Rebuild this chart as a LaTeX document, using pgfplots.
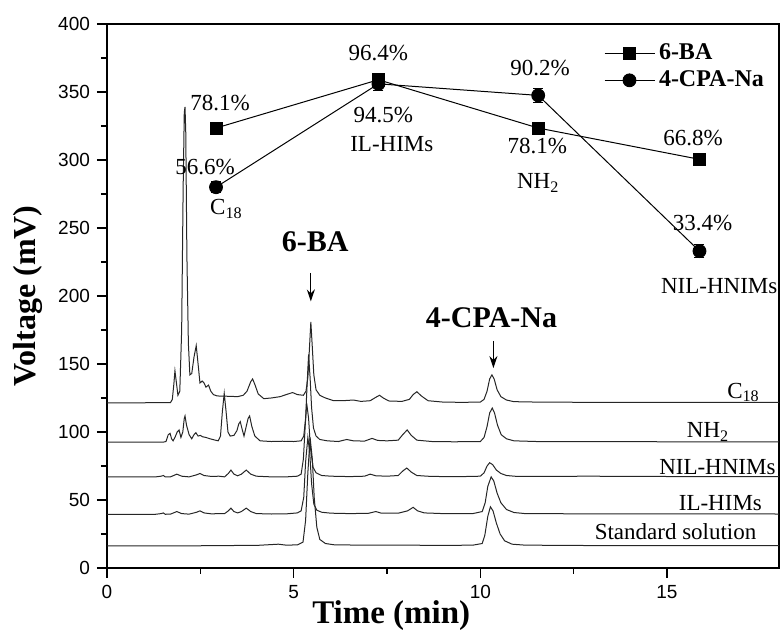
\documentclass[border=0pt]{standalone}
\usepackage{fontspec}
\setmainfont{Liberation Serif}
\newfontfamily\ticksf{Liberation Sans}
\usepackage{pgfplots}
\pgfplotsset{compat=1.18}
\usetikzlibrary{arrows.meta}

\begin{document}
\begin{tikzpicture}
\begin{axis}[
  scale only axis, width=336pt, height=272pt,
  xmin=0, xmax=18, ymin=0, ymax=400,
  xtick={0,5,10,15}, ytick={0,50,...,400},
  minor x tick num=1, minor y tick num=1,
  tick pos=left, tick align=outside,
  major tick length=5pt, minor tick length=3pt,
  axis line style={line width=0.9pt},
  every tick/.style={line width=0.8pt, black},
  ticklabel style={font=\ticksf\fontsize{9.5}{10}\selectfont},
  /pgf/number format/assume math mode=true,
  xlabel={\textbf{Time (min)}}, ylabel={\textbf{Voltage (mV)}},
  xlabel style={font=\fontsize{16.5}{19}\selectfont, inner sep=0pt, at={(rel axis cs:0.423,-0.088)}, anchor=center},
  ylabel style={font=\fontsize{16}{18}\selectfont, inner sep=0pt, at={(rel axis cs:-0.1176,0.5)}, anchor=center},
  clip=false,
  legend style={draw=none, fill=none, at={(rel axis cs:0.987,0.975)}, anchor=north east,
    font=\bfseries\fontsize{12}{14.5}\selectfont, inner sep=1pt},
  legend cell align=left,
  legend image code/.code={\draw[mark repeat=2,mark phase=2,#1] plot coordinates {(0pt,0pt) (12.5pt,0pt) (25pt,0pt)};},
  trace/.style={black!85, line width=0.5pt, forget plot},
]
% chromatograms
\addplot[trace] coordinates {(0,121.5) (1.0,121.5) (1.7,121.6) (1.75,124) (1.79,135) (1.82,145) (1.86,136) (1.9,127) (1.95,130) (2.0,175) (2.04,280) (2.07,335) (2.09,339) (2.11,320) (2.14,230) (2.18,165) (2.22,142) (2.27,143) (2.33,155) (2.39,163.5) (2.44,150) (2.49,136) (2.55,137.5) (2.6,136) (2.65,133) (2.72,134.5) (2.78,130) (2.85,127.5) (2.95,126.5) (3.2,126.3) (3.5,126) (3.65,127) (3.75,130) (3.85,137) (3.9,139) (3.96,135) (4.05,128) (4.2,124.5) (4.4,125) (4.64,126) (4.8,127.5) (4.97,129) (5.1,127.5) (5.26,127) (5.33,130) (5.38,140) (5.42,160) (5.46,181) (5.5,162) (5.54,142) (5.6,131) (5.7,127) (5.85,125) (6.07,123) (6.3,123) (6.6,123.5) (6.8,122.5) (7.05,123) (7.2,125.5) (7.3,127) (7.4,125) (7.55,122.8) (7.9,122.5) (8.1,124) (8.2,127.5) (8.3,129.6) (8.42,126.5) (8.6,123) (9.0,122) (9.5,121.8) (10.0,122) (10.1,124) (10.18,130) (10.25,139) (10.31,142) (10.37,139) (10.45,131) (10.55,126) (10.7,123.5) (10.9,122.3) (11.5,122) (13,121.8) (15,121.8) (18,121.7)};
\addplot[trace] coordinates {(0,92.5) (1.5,92.5) (1.58,93) (1.64,98) (1.69,99) (1.73,95) (1.77,93.5) (1.82,96) (1.88,100) (1.93,101.5) (1.98,96) (2.03,100) (2.07,110) (2.09,111.8) (2.13,105) (2.2,98) (2.27,95) (2.33,98) (2.38,99.5) (2.44,97) (2.5,97.5) (2.56,96.5) (2.65,96) (2.76,95) (2.9,94) (2.98,93.5) (3.04,97) (3.09,115) (3.14,128.4) (3.19,115) (3.24,100) (3.3,97) (3.4,97.5) (3.48,101) (3.53,106) (3.57,107.6) (3.62,102) (3.67,97) (3.72,103) (3.78,110) (3.82,111.8) (3.88,104) (3.96,97) (4.1,93.5) (4.4,93) (4.7,93.2) (5.0,93) (5.2,93.5) (5.27,97) (5.32,110) (5.36,135) (5.40,157) (5.44,140) (5.48,118) (5.53,103) (5.6,97) (5.7,94.5) (5.9,93.5) (6.2,93) (6.42,94.5) (6.6,93.5) (6.9,93.3) (7.1,95.3) (7.25,93.8) (7.5,93.5) (7.8,94) (7.92,98) (8.04,101.5) (8.15,97.5) (8.3,94) (8.7,93) (9.3,92.8) (10.0,93) (10.1,96) (10.18,104) (10.25,114) (10.32,117.6) (10.38,114) (10.46,105) (10.56,98) (10.7,95) (10.9,93.5) (11.5,93) (13,93) (15,92.8) (18,92.8)};
\addplot[trace] coordinates {(0,67) (1.3,67) (1.45,67.5) (1.51,68) (1.56,67) (1.7,67) (1.87,69) (2.0,67.5) (2.2,67) (2.4,68.5) (2.49,69.5) (2.6,68) (2.8,67.3) (3.0,67.5) (3.15,67) (3.25,69.5) (3.32,72) (3.4,69) (3.5,67.8) (3.6,69) (3.73,72) (3.85,69) (4.0,67.5) (4.4,67) (4.8,67) (5.1,67.5) (5.2,69) (5.26,80) (5.31,105) (5.35,121) (5.4,110) (5.45,88) (5.52,74) (5.6,70) (5.75,68) (6.0,67.5) (6.5,67.2) (6.9,67.5) (7.05,69) (7.2,67.8) (7.5,67.5) (7.8,68) (7.93,71.5) (8.03,73.5) (8.15,70.5) (8.3,68) (8.7,67.3) (9.5,67.2) (10.0,67.5) (10.1,70) (10.18,75) (10.25,77.4) (10.33,76) (10.43,72) (10.55,69.5) (10.7,68) (11,67.3) (13,67.5) (14,67.3) (18,67.2)};
\addplot[trace] coordinates {(0,39.5) (1.3,39.5) (1.45,40) (1.51,40.5) (1.56,39.5) (1.7,39.6) (1.87,41.5) (2.0,40) (2.2,39.6) (2.4,41) (2.49,42) (2.6,40.5) (2.8,39.8) (3.0,40) (3.15,40) (3.25,42) (3.32,44) (3.4,41.5) (3.5,40.5) (3.6,41.5) (3.73,44) (3.85,41.5) (4.0,40) (4.4,39.7) (4.8,39.8) (5.1,40.5) (5.2,42) (5.27,52) (5.32,78) (5.38,96) (5.43,85) (5.48,62) (5.54,47) (5.62,42.5) (5.75,41) (6.0,40.3) (6.5,40) (7.0,40.2) (7.2,41.5) (7.35,40.3) (7.8,40.3) (8.05,42) (8.2,44.6) (8.32,42) (8.5,40.5) (9.0,40) (9.8,40) (10.05,41.5) (10.13,48) (10.2,60) (10.29,67) (10.36,64) (10.45,55) (10.55,48) (10.7,43) (10.9,40.8) (11.2,40) (13,39.8) (18,39.7)};
\addplot[trace] coordinates {(0,16.3) (2,16.2) (3,16.5) (4,16.6) (4.59,17.5) (4.8,16.8) (5.1,17) (5.25,19) (5.32,35) (5.38,70) (5.44,96) (5.5,80) (5.55,52) (5.62,30) (5.7,21) (5.85,18) (6.1,17) (7,16.8) (8,16.8) (9,16.6) (9.8,16.8) (10.05,18) (10.12,24) (10.2,38) (10.27,45) (10.34,42) (10.43,33) (10.53,25) (10.65,20) (10.85,17.5) (11.2,16.8) (13,16.5) (18,16.4)};
% recoveries
\addplot[black, line width=0.5pt, mark=square*, mark size=3pt,
  error bars/.cd, y dir=both, y explicit, error bar style={line width=0.5pt},
  error mark options={rotate=90, mark size=2.5pt, line width=0.5pt}]
  coordinates {(2.92,323.5) +- (0,4) (7.27,359) +- (0,4) (11.55,323.5) +- (0,3) (15.87,300.5) +- (0,3)};
\addlegendentry{6-BA}
\addplot[black, line width=0.5pt, mark=*, mark size=3.2pt,
  error bars/.cd, y dir=both, y explicit, error bar style={line width=0.5pt},
  error mark options={rotate=90, mark size=2.5pt, line width=0.5pt}]
  coordinates {(2.92,280) +- (0,4) (7.27,356) +- (0,5) (11.55,347.5) +- (0,5) (15.87,233) +- (0,5)};
\addlegendentry{4-CPA-Na}
% annotations
\begin{scope}[every node/.style={font=\fontsize{11.5}{13}\selectfont, inner sep=0pt}]
\node at (axis cs:3.03,342) {78.1\%};
\node at (axis cs:2.63,295) {56.6\%};
\node at (axis cs:3.2,264) {C\textsubscript{18}};
\node at (axis cs:7.27,379) {96.4\%};
\node at (axis cs:7.4,333) {94.5\%};
\node at (axis cs:7.63,312) {IL-HIMs};
\node at (axis cs:11.6,368) {90.2\%};
\node at (axis cs:11.53,310) {78.1\%};
\node at (axis cs:11.55,283) {NH\textsubscript{2}};
\node at (axis cs:15.7,316) {66.8\%};
\node at (axis cs:15.95,254) {33.4\%};
\node at (axis cs:16.4,207) {NIL-HNIMs};
\node at (axis cs:17.05,129) {C\textsubscript{18}};
\node at (axis cs:16.1,100) {NH\textsubscript{2}};
\node at (axis cs:16.35,74) {NIL-HNIMs};
\node at (axis cs:16.43,48) {IL-HIMs};
\node at (axis cs:15.23,26.5) {Standard solution};
\end{scope}
\node[font=\bfseries\fontsize{15}{17}\selectfont] at (axis cs:5.58,240) {6-BA};
\node[font=\bfseries\fontsize{15}{17}\selectfont] at (axis cs:10.3,184) {4-CPA-Na};
\draw[line width=0.6pt, -{Stealth[length=6pt,width=4pt]}] (axis cs:5.46,217) -- (axis cs:5.46,196);
\draw[line width=0.6pt, -{Stealth[length=6pt,width=4pt]}] (axis cs:10.35,167) -- (axis cs:10.35,147);
\end{axis}
\pgfresetboundingbox
\path[use as bounding box] ([shift={(-53.5pt,-36.5pt)}]current axis.south west) rectangle ([shift={(1.5pt,12pt)}]current axis.north east);
\end{tikzpicture}
\end{document}
